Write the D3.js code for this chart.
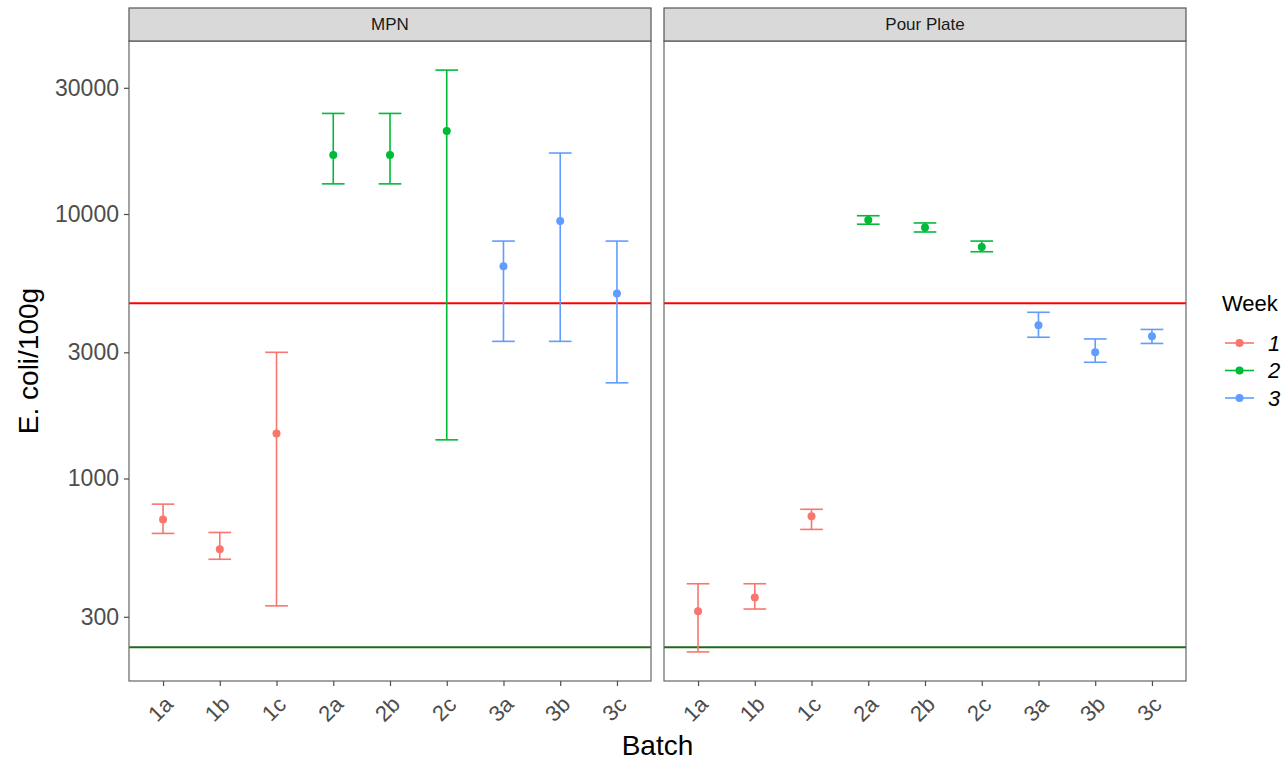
<!DOCTYPE html>
<html>
<head>
<meta charset="utf-8">
<script src="https://cdn.jsdelivr.net/npm/d3@7"></script>
<style>
  body { margin: 0; background: #fff; }
  svg text { font-family: "Liberation Sans", Arial, sans-serif; }
</style>
</head>
<body>
<svg id="chart" width="1288" height="760"></svg>
<script>
// ---- data ----
const batches = ["1a", "1b", "1c", "2a", "2b", "2c", "3a", "3b", "3c"];
const batchWeek = ["1", "1", "1", "2", "2", "2", "3", "3", "3"];
const methods = ["MPN", "Pour Plate"];
const weeks = ["1", "2", "3"];
const weekColors = ["#F8766D", "#00BA38", "#619CFF"];

const mpnMean = [700, 540, 1480, 16700, 16700, 20600, 6350, 9400, 5000];
const mpnLow  = [620, 495, 330, 13000, 13000, 1400, 3300, 3300, 2300];
const mpnHigh = [800, 625, 3000, 24000, 24000, 35000, 7900, 17000, 7900];

const ppMean = [315, 355, 720, 9500, 8900, 7500, 3800, 3000, 3450];
const ppLow  = [221, 321, 642, 9150, 8550, 7200, 3420, 2750, 3240];
const ppHigh = [400, 400, 765, 9850, 9250, 7900, 4250, 3370, 3660];

const yTicks = [300, 1000, 3000, 10000, 30000];
const upperLimit = 4600;
const lowerLimit = 230;

// ---- build ----
const series = {
  "MPN": {mean: mpnMean, low: mpnLow, high: mpnHigh},
  "Pour Plate": {mean: ppMean, low: ppLow, high: ppHigh}
};

const svg = d3.select("#chart");
svg.append("rect").attr("width", 1288).attr("height", 760).attr("fill", "#fff");

const panelTop = 41, panelBottom = 681, stripTop = 8;
const panelX = [[129, 651], [664, 1186]];

const allVals = [].concat(mpnLow, mpnHigh, ppLow, ppHigh, [upperLimit, lowerLimit]);
const lmin = Math.log10(d3.min(allVals)), lmax = Math.log10(d3.max(allVals));
const pad = (lmax - lmin) * 0.05;
const y = d3.scaleLog()
  .domain([Math.pow(10, lmin - pad), Math.pow(10, lmax + pad)])
  .range([panelBottom, panelTop]);

const color = d3.scaleOrdinal().domain(weeks).range(weekColors);

methods.forEach((m, mi) => {
  const [x0, x1] = panelX[mi];
  const x = d3.scalePoint().domain(batches).range([x0, x1]).padding(0.6);
  const step = x.step();
  const g = svg.append("g");

  // panel background
  g.append("rect").attr("x", x0).attr("y", panelTop).attr("width", x1 - x0)
    .attr("height", panelBottom - panelTop).attr("fill", "#fff");

  // reference lines
  g.append("line").attr("x1", x0).attr("x2", x1)
    .attr("y1", y(upperLimit)).attr("y2", y(upperLimit))
    .attr("stroke", "#FF0000").attr("stroke-width", 2);
  g.append("line").attr("x1", x0).attr("x2", x1)
    .attr("y1", y(lowerLimit)).attr("y2", y(lowerLimit))
    .attr("stroke", "#1E6B1E").attr("stroke-width", 2);

  const s = series[m];
  const data = batches.map((b, i) => ({b, w: batchWeek[i], mean: s.mean[i], low: s.low[i], high: s.high[i]}));
  const capW = step * 0.4;

  const eb = g.selectAll("g.eb").data(data).enter().append("g")
    .attr("stroke", d => color(d.w)).attr("stroke-width", 1.6);
  eb.append("line").attr("x1", d => x(d.b)).attr("x2", d => x(d.b))
    .attr("y1", d => y(d.low)).attr("y2", d => y(d.high));
  eb.append("line").attr("x1", d => x(d.b) - capW / 2).attr("x2", d => x(d.b) + capW / 2)
    .attr("y1", d => y(d.low)).attr("y2", d => y(d.low));
  eb.append("line").attr("x1", d => x(d.b) - capW / 2).attr("x2", d => x(d.b) + capW / 2)
    .attr("y1", d => y(d.high)).attr("y2", d => y(d.high));
  g.selectAll("circle.pt").data(data).enter().append("circle")
    .attr("cx", d => x(d.b)).attr("cy", d => y(d.mean)).attr("r", 4)
    .attr("fill", d => color(d.w));

  // panel border
  g.append("rect").attr("x", x0).attr("y", panelTop).attr("width", x1 - x0)
    .attr("height", panelBottom - panelTop).attr("fill", "none")
    .attr("stroke", "#666").attr("stroke-width", 1.2);

  // strip
  g.append("rect").attr("x", x0).attr("y", stripTop).attr("width", x1 - x0)
    .attr("height", panelTop - stripTop).attr("fill", "#D9D9D9")
    .attr("stroke", "#555").attr("stroke-width", 1.2);
  g.append("text").attr("x", (x0 + x1) / 2).attr("y", (stripTop + panelTop) / 2)
    .attr("text-anchor", "middle").attr("dominant-baseline", "central")
    .attr("font-size", 17).attr("fill", "#1A1A1A").text(m);

  // x axis
  const xa = g.append("g").attr("transform", `translate(0,${panelBottom})`)
    .call(d3.axisBottom(x).tickSize(5).tickPadding(3));
  xa.select(".domain").remove();
  xa.selectAll(".tick line").attr("stroke", "#4D4D4D").attr("stroke-width", 1.2);
  xa.selectAll(".tick text").attr("font-size", 22).attr("fill", "#4D4D4D")
    .attr("text-anchor", "middle").attr("dy", null).attr("y", null)
    .attr("dominant-baseline", "central")
    .attr("transform", "translate(-3,28) rotate(-45)");

  // y axis (left panel only)
  if (mi === 0) {
    const ya = g.append("g").attr("transform", `translate(${x0},0)`)
      .call(d3.axisLeft(y).tickValues(yTicks).tickFormat(d3.format("d")).tickSize(5).tickPadding(5));
    ya.select(".domain").remove();
    ya.selectAll(".tick line").attr("stroke", "#4D4D4D").attr("stroke-width", 1.2);
    ya.selectAll(".tick text").attr("font-size", 23).attr("fill", "#4D4D4D");
  }
});

// axis titles
svg.append("text").attr("x", (129 + 1186) / 2).attr("y", 755)
  .attr("text-anchor", "middle").attr("font-size", 28).attr("fill", "#000").text("Batch");
svg.append("text").attr("transform", `translate(38,${(panelTop + panelBottom) / 2}) rotate(-90)`)
  .attr("text-anchor", "middle").attr("font-size", 28).attr("fill", "#000").text("E. coli/100g");

// legend
const lg = svg.append("g");
lg.append("text").attr("x", 1222).attr("y", 311).attr("font-size", 22).attr("fill", "#000").text("Week");
weeks.forEach((w, i) => {
  const cy = 343 + i * 27.5;
  lg.append("line").attr("x1", 1225).attr("x2", 1254).attr("y1", cy).attr("y2", cy)
    .attr("stroke", color(w)).attr("stroke-width", 1.6);
  lg.append("circle").attr("cx", 1239.5).attr("cy", cy).attr("r", 4).attr("fill", color(w));
  lg.append("text").attr("x", 1268).attr("y", cy).attr("dominant-baseline", "central")
    .attr("font-size", 22).attr("font-style", "italic").attr("fill", "#000").text(w);
});
</script>
</body>
</html>
